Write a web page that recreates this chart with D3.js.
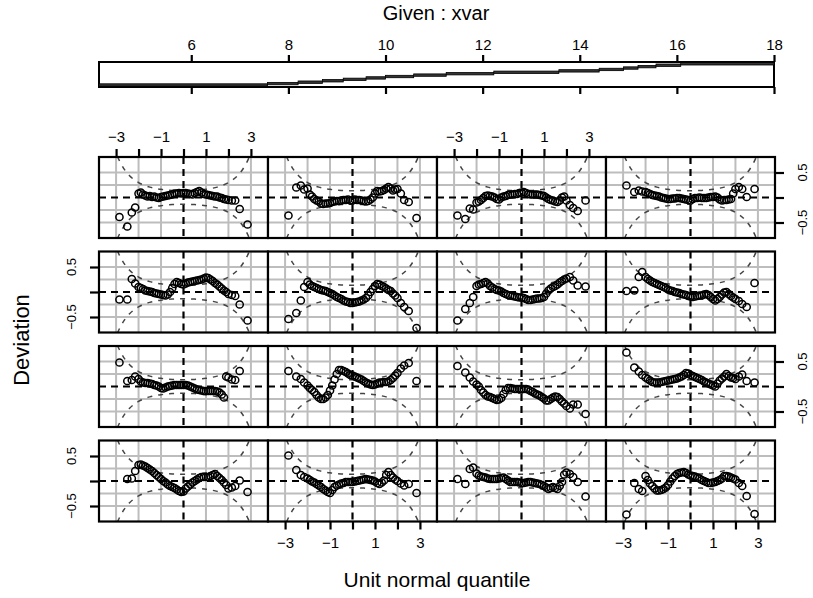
<!DOCTYPE html>
<html>
<head>
<meta charset="utf-8">
<script src="https://cdn.jsdelivr.net/npm/d3@7"></script>
<style>
  body { margin: 0; background: #fff; }
  text { font-family: "Liberation Sans", Arial, Helvetica, sans-serif; fill: #000; }
</style>
</head>
<body>
<svg id="chart" width="813" height="598"></svg>
<script>
// ---- data ----
const givenTicks = [6, 8, 10, 12, 14, 16, 18]
// shingle edges of the conditioning variable (16 intervals)
const xvarBreaks = [4.1, 7.57, 8.2, 8.7, 9.13, 9.6, 10.0, 10.58, 11.25, 12.23, 13.57, 14.4, 14.9, 15.2, 15.57, 16.08, 18]
const quantileTicks = [-3, -2, -1, 0, 1, 2, 3]
const devTicks = [-0.5, 0, 0.5]
const devLabels = [-0.5, 0.5]
const gridY = [-0.5, -0.25, 0.25, 0.5]
// unit normal quantile positions of the plotted points
const qx = [-2.85, -2.5, -2.3, -2.15, -2.0, -1.9, -1.8, -1.7, -1.6, -1.5,
  -1.4, -1.3, -1.2, -1.1, -1.0, -0.9, -0.8, -0.7, -0.6, -0.5,
  -0.4, -0.3, -0.2, -0.1, 0, 0.1, 0.2, 0.3, 0.4, 0.5,
  0.6, 0.7, 0.8, 0.9, 1.0, 1.1, 1.2, 1.3, 1.4, 1.5,
  1.6, 1.7, 1.8, 1.9, 2.0, 2.15, 2.3, 2.5, 2.85]
// 95% band half width against |quantile|
const bandZ = [0, 0.25, 0.5, 0.75, 1, 1.25, 1.5, 1.75, 2, 2.2, 2.4, 2.6, 2.8, 3, 3.1]
const bandHalf = [0.135, 0.137, 0.142, 0.150, 0.163, 0.182, 0.208, 0.245, 0.298, 0.356, 0.434, 0.541, 0.688, 0.894, 1.03]

// deviations per panel (rows from top, columns from left)
const devR1C1 = [-0.39, -0.58, -0.30, -0.20, 0.08, 0.10, 0.06, 0.04, 0.02, 0.03,
  0.01, 0.02, 0.00, -0.01, 0.01, 0.02, 0.03, 0.04, 0.05, 0.06,
  0.08, 0.08, 0.09, 0.08, 0.09, 0.09, 0.08, 0.07, 0.06, 0.09,
  0.11, 0.13, 0.10, 0.07, 0.06, 0.05, 0.04, 0.03, 0.02, 0.02,
  0.00, -0.01, -0.03, -0.04, -0.05, -0.06, -0.06, -0.23, -0.54]
const devR1C2 = [-0.36, 0.20, 0.24, 0.16, 0.18, 0.06, 0.02, -0.03, -0.06, -0.08,
  -0.12, -0.13, -0.12, -0.12, -0.11, -0.09, -0.08, -0.07, -0.07, -0.06,
  -0.05, -0.05, -0.04, -0.06, -0.06, -0.04, -0.05, -0.05, -0.06, -0.07,
  -0.08, -0.07, -0.04, 0.00, 0.08, 0.13, 0.12, 0.13, 0.15, 0.18,
  0.21, 0.18, 0.14, 0.16, 0.17, 0.08, -0.05, -0.09, -0.41]
const devR1C3 = [-0.36, -0.43, -0.22, -0.24, -0.10, -0.08, -0.05, -0.01, 0.03, 0.04,
  0.03, 0.02, 0.00, -0.03, -0.04, 0.00, 0.02, 0.03, 0.05, 0.06,
  0.06, 0.07, 0.07, 0.09, 0.10, 0.11, 0.09, 0.07, 0.06, 0.06,
  0.06, 0.06, 0.05, 0.04, 0.03, 0.00, -0.03, -0.05, -0.06, -0.08,
  -0.09, -0.06, 0.00, 0.02, -0.06, -0.15, -0.21, -0.27, -0.06]
const devR1C4 = [0.24, 0.11, 0.14, 0.12, 0.11, 0.09, 0.07, 0.05, 0.04, 0.03,
  0.02, 0.00, -0.01, -0.02, -0.03, -0.03, -0.02, -0.02, -0.01, -0.01,
  -0.02, -0.03, -0.04, -0.05, -0.06, -0.03, -0.01, -0.01, 0.00, -0.01,
  -0.01, -0.01, 0.00, 0.01, 0.01, 0.02, 0.00, -0.04, -0.06, -0.05,
  -0.05, -0.04, -0.03, 0.08, 0.17, 0.21, 0.17, 0.01, 0.17]
const devR2C1 = [-0.15, -0.15, 0.26, 0.17, 0.10, 0.08, 0.06, 0.03, 0.02, 0.01,
  0.00, -0.02, -0.03, -0.04, -0.05, -0.06, -0.07, -0.05, 0.00, 0.08,
  0.16, 0.20, 0.18, 0.16, 0.15, 0.17, 0.19, 0.20, 0.21, 0.22,
  0.23, 0.24, 0.25, 0.27, 0.29, 0.28, 0.25, 0.22, 0.18, 0.15,
  0.11, 0.07, 0.03, 0.00, -0.04, -0.06, -0.08, -0.25, -0.57]
const devR2C2 = [-0.54, -0.42, -0.17, 0.10, 0.20, 0.15, 0.12, 0.10, 0.08, 0.06,
  0.04, 0.03, 0.02, 0.00, -0.02, -0.04, -0.07, -0.10, -0.12, -0.14,
  -0.17, -0.19, -0.20, -0.22, -0.22, -0.21, -0.20, -0.19, -0.17, -0.15,
  -0.12, -0.07, 0.00, 0.06, 0.12, 0.16, 0.15, 0.12, 0.10, 0.07,
  0.04, 0.02, -0.03, -0.07, -0.12, -0.22, -0.30, -0.38, -0.72]
const devR2C3 = [-0.57, -0.34, -0.22, -0.10, 0.12, 0.15, 0.16, 0.18, 0.20, 0.17,
  0.12, 0.09, 0.06, 0.04, 0.03, 0.01, -0.02, -0.04, -0.06, -0.07,
  -0.08, -0.09, -0.10, -0.11, -0.11, -0.12, -0.14, -0.16, -0.16, -0.15,
  -0.14, -0.13, -0.13, -0.12, -0.10, -0.03, 0.03, 0.07, 0.10, 0.12,
  0.15, 0.19, 0.22, 0.25, 0.27, 0.30, 0.23, 0.13, 0.11]
const devR2C4 = [0.02, 0.03, 0.30, 0.40, 0.30, 0.26, 0.23, 0.20, 0.18, 0.16,
  0.14, 0.12, 0.10, 0.08, 0.05, 0.03, 0.02, 0.00, -0.01, -0.02,
  -0.04, -0.05, -0.06, -0.08, -0.09, -0.10, -0.09, -0.08, -0.07, -0.07,
  -0.05, -0.04, -0.06, -0.10, -0.14, -0.17, -0.14, -0.10, -0.05, -0.01,
  0.00, -0.04, -0.08, -0.11, -0.14, -0.18, -0.24, -0.30, 0.18]
const devR3C1 = [0.48, 0.11, 0.13, 0.20, 0.15, 0.10, 0.08, 0.07, 0.07, 0.06,
  0.05, 0.03, 0.02, 0.00, -0.03, -0.04, -0.02, 0.00, 0.01, 0.02,
  0.03, 0.03, 0.03, 0.03, 0.03, 0.03, 0.02, 0.00, -0.02, -0.04,
  -0.06, -0.07, -0.08, -0.09, -0.09, -0.09, -0.09, -0.09, -0.09, -0.10,
  -0.12, -0.16, -0.22, 0.20, 0.18, 0.14, 0.13, 0.31, null]
const devR3C2 = [0.31, 0.20, 0.15, 0.08, 0.02, -0.03, -0.07, -0.11, -0.17, -0.22,
  -0.25, -0.25, -0.22, -0.17, -0.08, 0.02, 0.14, 0.25, 0.33, 0.33,
  0.31, 0.29, 0.26, 0.23, 0.22, 0.20, 0.18, 0.16, 0.14, 0.11,
  0.08, 0.06, 0.04, 0.03, 0.04, 0.06, 0.08, 0.08, 0.09, 0.09,
  0.10, 0.13, 0.17, 0.22, 0.27, 0.36, 0.42, 0.47, 0.11]
const devR3C3 = [0.41, 0.28, 0.18, 0.10, 0.04, 0.00, -0.07, -0.12, -0.17, -0.20,
  -0.21, -0.23, -0.25, -0.27, -0.26, -0.23, -0.15, -0.07, -0.03, -0.03,
  -0.04, -0.05, -0.05, -0.05, -0.05, -0.05, -0.05, -0.06, -0.09, -0.11,
  -0.14, -0.16, -0.18, -0.21, -0.24, -0.28, -0.28, -0.25, -0.22, -0.20,
  -0.21, -0.25, -0.30, -0.34, -0.39, -0.44, -0.36, -0.36, -0.55]
const devR3C4 = [0.68, 0.38, 0.30, 0.23, 0.18, 0.15, 0.12, 0.09, 0.08, 0.08,
  0.08, 0.09, 0.10, 0.11, 0.12, 0.13, 0.14, 0.15, 0.16, 0.18,
  0.20, 0.23, 0.27, 0.26, 0.23, 0.21, 0.19, 0.17, 0.15, 0.13,
  0.10, 0.08, 0.06, 0.04, 0.02, 0.00, 0.06, 0.12, 0.16, 0.20,
  0.25, 0.21, 0.18, 0.17, 0.15, 0.20, 0.24, 0.11, 0.08]
const devR4C1 = [null, 0.04, 0.05, 0.20, 0.32, 0.33, 0.31, 0.29, 0.26, 0.23,
  0.20, 0.16, 0.12, 0.08, 0.04, 0.00, -0.03, -0.07, -0.10, -0.12,
  -0.14, -0.17, -0.20, -0.22, -0.21, -0.15, -0.11, -0.07, -0.03, 0.00,
  0.03, 0.06, 0.08, 0.08, 0.08, 0.08, 0.10, 0.12, 0.14, 0.10,
  0.06, 0.02, -0.03, -0.08, -0.15, -0.13, -0.10, 0.01, -0.22]
const devR4C2 = [0.51, 0.22, 0.12, 0.08, 0.05, 0.02, -0.01, -0.03, -0.06, -0.09,
  -0.12, -0.16, -0.19, -0.22, -0.24, -0.18, -0.12, -0.09, -0.07, -0.05,
  -0.04, -0.02, -0.02, -0.02, -0.02, -0.01, 0.00, 0.01, 0.02, 0.03,
  0.04, 0.03, 0.02, 0.01, -0.01, -0.04, -0.06, -0.03, 0.01, 0.12,
  0.18, 0.12, 0.07, 0.03, 0.00, -0.05, -0.09, -0.06, -0.24]
const devR4C3 = [0.04, -0.06, 0.24, 0.27, 0.15, 0.11, 0.09, 0.08, 0.07, 0.05,
  0.04, 0.04, 0.04, 0.04, 0.05, 0.06, 0.07, 0.04, 0.01, -0.02,
  -0.02, -0.02, -0.02, -0.03, -0.04, -0.04, -0.03, -0.02, -0.02, -0.03,
  -0.04, -0.05, -0.06, -0.08, -0.10, -0.13, -0.16, -0.14, -0.12, -0.14,
  -0.16, -0.10, -0.02, 0.13, 0.17, 0.14, 0.08, -0.02, -0.31]
const devR4C4 = [-0.67, -0.04, -0.16, -0.20, 0.10, 0.02, -0.05, -0.10, -0.15, -0.19,
  -0.19, -0.18, -0.16, -0.13, -0.08, -0.01, 0.05, 0.10, 0.14, 0.16,
  0.17, 0.18, 0.16, 0.13, 0.11, 0.10, 0.09, 0.07, 0.05, 0.02,
  0.00, -0.02, -0.04, -0.04, -0.03, -0.02, 0.00, 0.02, 0.05, 0.10,
  0.10, 0.09, 0.07, 0.05, 0.03, -0.04, -0.10, -0.30, -0.66]

const panelRows = [
  [devR1C1, devR1C2, devR1C3, devR1C4],
  [devR2C1, devR2C2, devR2C3, devR2C4],
  [devR3C1, devR3C2, devR3C3, devR3C4],
  [devR4C1, devR4C2, devR4C3, devR4C4]
]

// ---- layout ----
const svg = d3.select('#chart')
const panelLeft = 99
const panelTop = 157
const colW = 169
const rowH = 81
const rowStep = 94.5
const fontFam = '"Liberation Sans", Arial, Helvetica, sans-serif'

const x = d3.scaleLinear().domain([-3.76, 3.76]).range([0, colW])
const y = d3.scaleLinear().domain([-0.81, 0.81]).range([rowH, 0])

function styleAxis (g, size) {
  g.select('.domain').remove()
  g.selectAll('.tick line').attr('stroke', '#000').attr('stroke-width', 2.2)
  g.selectAll('.tick text').attr('font-size', size).attr('font-family', fontFam).attr('fill', '#000')
}

// titles
svg.append('text').attr('x', 436).attr('y', 20).attr('text-anchor', 'middle')
  .attr('font-size', 20).text('Given : xvar')
svg.append('text').attr('x', 437).attr('y', 587).attr('text-anchor', 'middle')
  .attr('font-size', 21).text('Unit normal quantile')
svg.append('text').attr('transform', 'translate(29,340) rotate(-90)').attr('text-anchor', 'middle')
  .attr('font-family', '"Liberation Sans Narrow", "Liberation Sans", Arial, sans-serif')
  .attr('font-size', 22).text('Deviation')

// ---- given bar ----
const gx = d3.scaleLinear().domain([xvarBreaks[0], 18]).range([99, 774])
const lv = d3.scaleLinear().domain([1, 16]).range([85.0, 63.8])
const bar = svg.append('g')
bar.append('rect').attr('x', gx.range()[0]).attr('y', 62)
  .attr('width', gx.range()[1] - gx.range()[0]).attr('height', 25)
  .attr('fill', '#fff').attr('stroke', '#000').attr('stroke-width', 2)
bar.selectAll('.lvl').data(d3.pairs(xvarBreaks)).join('rect')
  .attr('class', 'lvl')
  .attr('x', d => gx(d[0]))
  .attr('width', d => gx(d[1]) - gx(d[0]))
  .attr('y', (d, i) => lv(i + 1) - 1.2)
  .attr('height', 2.4)
  .attr('fill', '#333').attr('stroke', '#000').attr('stroke-width', 0.8)
bar.append('g').attr('transform', 'translate(0,62)')
  .call(d3.axisTop(gx).tickValues(givenTicks).tickSize(7).tickPadding(5))
  .call(g => styleAxis(g, 15))
bar.append('g').attr('transform', 'translate(0,87)')
  .call(d3.axisBottom(gx).tickValues(givenTicks).tickSize(7).tickFormat(''))
  .call(g => styleAxis(g, 15))

// ---- panels ----
const bandPts = bandZ.slice(1).reverse().map((z, i) => [-z, bandHalf[bandHalf.length - 1 - i]])
  .concat(bandZ.map((z, i) => [z, bandHalf[i]]))
const bandLine = d3.line().x(d => x(d[0])).y(d => y(d[1])).curve(d3.curveMonotoneX)
const qTickFmt = d => (Math.abs(d) % 2 === 1 ? d3.format('')(d).replace('-', '\u2212') : '')

svg.append('defs').append('clipPath').attr('id', 'panelClip')
  .append('rect').attr('width', colW).attr('height', rowH)

panelRows.forEach((row, r) => {
  row.forEach((dev, c) => {
    const g = svg.append('g')
      .attr('transform', `translate(${panelLeft + c * colW},${panelTop + r * rowStep})`)
    const inner = g.append('g').attr('clip-path', 'url(#panelClip)')
    inner.append('rect').attr('width', colW).attr('height', rowH).attr('fill', '#fff')
    // light grid
    inner.selectAll('.gv').data(quantileTicks.filter(d => d !== 0)).join('line')
      .attr('x1', d => x(d)).attr('x2', d => x(d)).attr('y1', 0).attr('y2', rowH)
      .attr('stroke', '#bdbdbd').attr('stroke-width', 2)
    inner.selectAll('.gh').data(gridY).join('line')
      .attr('y1', d => y(d)).attr('y2', d => y(d)).attr('x1', 0).attr('x2', colW)
      .attr('stroke', '#bdbdbd').attr('stroke-width', 2)
    // zero reference lines
    inner.append('line').attr('x1', x(0)).attr('x2', x(0)).attr('y1', 0).attr('y2', rowH)
      .attr('stroke', '#000').attr('stroke-width', 2.2).attr('stroke-dasharray', '7,5')
    inner.append('line').attr('y1', y(0)).attr('y2', y(0)).attr('x1', 0).attr('x2', colW)
      .attr('stroke', '#000').attr('stroke-width', 2.2).attr('stroke-dasharray', '7,5')
    // confidence band
    ;[1, -1].forEach(s => {
      inner.append('path').datum(bandPts.map(p => [p[0], s * p[1]]))
        .attr('d', bandLine).attr('fill', 'none')
        .attr('stroke', '#444').attr('stroke-width', 1.5).attr('stroke-dasharray', '5,6')
    })
    // worm points
    const pts = qx.map((q, i) => [q, dev[i]]).filter(d => d[1] !== null)
    inner.selectAll('circle').data(pts).join('circle')
      .attr('cx', d => x(d[0])).attr('cy', d => y(d[1])).attr('r', 3.6)
      .attr('fill', 'none').attr('stroke', '#000').attr('stroke-width', 1.5)
    // border
    g.append('rect').attr('width', colW).attr('height', rowH)
      .attr('fill', 'none').attr('stroke', '#000').attr('stroke-width', 2.2)

    // alternating axes
    if (r === 0 && c % 2 === 0) {
      g.append('g').call(d3.axisTop(x).tickValues(quantileTicks).tickFormat(qTickFmt).tickSize(8).tickPadding(7))
        .call(a => styleAxis(a, 15))
    }
    if (r === 3 && c % 2 === 1) {
      g.append('g').attr('transform', `translate(0,${rowH})`)
        .call(d3.axisBottom(x).tickValues(quantileTicks).tickFormat(qTickFmt).tickSize(8).tickPadding(8))
        .call(a => styleAxis(a, 15))
    }
    if (c === 0 && r % 2 === 1) {
      g.append('g').call(d3.axisLeft(y).tickValues(devTicks).tickFormat('').tickSize(9))
        .call(a => styleAxis(a, 13))
      g.selectAll('.ylab').data(devLabels).join('text').attr('class', 'ylab')
        .attr('transform', d => `translate(-23,${y(d)}) rotate(-90)`)
        .attr('text-anchor', 'middle').attr('font-size', 13)
        .text(d => d3.format('')(d).replace('-', '\u2212'))
    }
    if (c === 3 && r % 2 === 0) {
      g.append('g').attr('transform', `translate(${colW},0)`)
        .call(d3.axisRight(y).tickValues(devTicks).tickFormat('').tickSize(9))
        .call(a => styleAxis(a, 13))
      g.selectAll('.ylab').data(devLabels).join('text').attr('class', 'ylab')
        .attr('transform', d => `translate(${colW + 32},${y(d)}) rotate(-90)`)
        .attr('text-anchor', 'middle').attr('font-size', 13)
        .text(d => d3.format('')(d).replace('-', '\u2212'))
    }
  })
})
</script>
</body>
</html>
